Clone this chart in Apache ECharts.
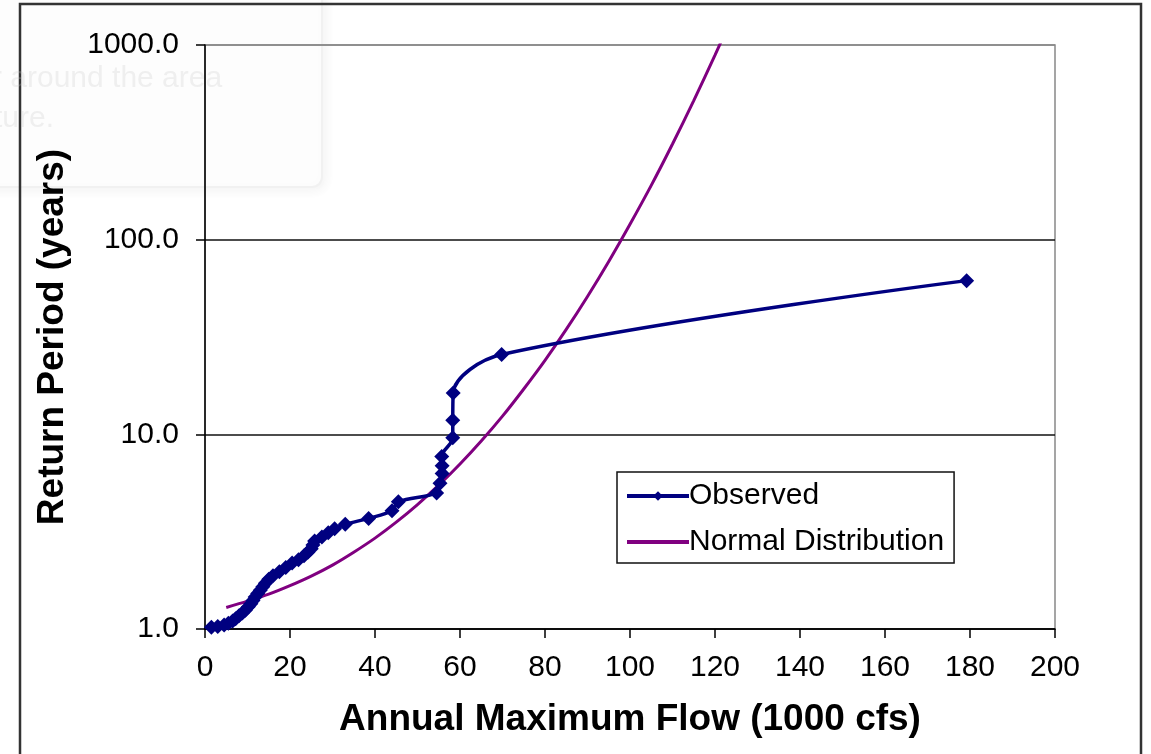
<!DOCTYPE html>
<html>
<head>
<meta charset="utf-8">
<script src="https://cdn.jsdelivr.net/npm/echarts@6/dist/echarts.min.js"></script>
<style>
html,body{margin:0;padding:0;background:#fff;}
#chart{width:1151px;height:754px;}
</style>
</head>
<body>
<div id="chart"></div>
<script>
// Observed data: [annual maximum flow (1000 cfs), return period (years)]
const observedFlow = [1.5, 3.0, 4.5, 5.5, 6.5, 7.2, 8.0, 8.8, 9.5, 10.2, 10.8, 11.3, 11.8, 12.4, 13.0, 13.6, 14.2, 15.0, 16.0, 17.5, 19.0, 20.5, 22.0, 23.3, 24.2, 25.0, 25.4, 25.8, 27.5, 29.0, 30.5, 33.0, 38.5, 44.0, 45.5, 54.5, 55.3, 55.8, 55.8, 55.7, 58.3, 58.3, 58.4, 69.8, 179.2];
const observedReturn = [1.02, 1.03, 1.05, 1.07, 1.10, 1.13, 1.17, 1.21, 1.25, 1.30, 1.35, 1.40, 1.46, 1.52, 1.58, 1.65, 1.72, 1.80, 1.88, 1.97, 2.07, 2.18, 2.27, 2.38, 2.48, 2.58, 2.70, 2.83, 2.97, 3.12, 3.27, 3.45, 3.70, 4.05, 4.50, 5.0, 5.6, 6.3, 6.9, 7.7, 9.6, 11.8, 16.3, 25.7, 61.6];

// Normal distribution fit curve
const normalFlow = [5, 10, 15, 20, 25, 30, 35, 40, 45, 50, 55, 60, 65, 70, 75, 80, 85, 90, 95, 100, 105, 110, 115, 120, 125];
const normalReturn = [1.29, 1.39, 1.51, 1.67, 1.87, 2.13, 2.48, 2.93, 3.54, 4.36, 5.48, 7.04, 9.24, 12.4, 17.1, 24.0, 34.6, 51.1, 77.3, 120, 190, 310, 518, 887, 1550];

const xTicks = {min: 0, max: 200, interval: 20};
const yTicks = {min: 1, max: 1000};

const seriesNames = ['Observed', 'Normal Distribution'];
const xTitle = 'Annual Maximum Flow (1000 cfs)';
const yTitle = 'Return Period (years)';

const observedData = observedFlow.map((x, i) => [x, observedReturn[i]]);
const normalData = normalFlow.map((x, i) => [x, normalReturn[i]]);

const FONT = '"Liberation Sans", Arial, sans-serif';
const chart = echarts.init(document.getElementById('chart'), null, {renderer: 'canvas'});

chart.setOption({
  backgroundColor: '#fff',
  animation: false,
  textStyle: {fontFamily: FONT},
  grid: {left: 205, right: 96, top: 45, bottom: 125, show: true, borderColor: '#888', borderWidth: 1.5},
  graphic: [
    {type: 'rect', z: -10, shape: {x: -20, y: -20, width: 342, height: 207, r: 10},
     style: {fill: '#fdfdfd', stroke: '#f1f1f1', lineWidth: 2, shadowBlur: 12, shadowColor: 'rgba(0,0,0,0.05)', shadowOffsetX: 3, shadowOffsetY: 3}},
    {type: 'text', z: 100, left: -8, top: 64, style: {text: 'r around the area', fill: 'rgba(200,200,200,0.25)', font: '30px ' + FONT}},
    {type: 'text', z: 100, left: -6, top: 104, style: {text: 'ture.', fill: 'rgba(200,200,200,0.25)', font: '30px ' + FONT}},
    {type: 'rect', z: 50, shape: {x: 20, y: 4, width: 1121, height: 760},
     style: {fill: 'none', stroke: '#333', lineWidth: 2.5}}
  ],
  legend: {
    left: 617, top: 472, orient: 'vertical',
    data: [
      {name: seriesNames[0], lineStyle: {width: 4}},
      {name: seriesNames[1], itemStyle: {opacity: 0}, lineStyle: {width: 4}}
    ],
    borderColor: '#111', borderWidth: 1.5, padding: [9, 10, 6, 8],
    itemWidth: 62, itemHeight: 12, itemGap: 16,
    textStyle: {fontSize: 30, color: '#000', fontFamily: FONT, padding: [0, 0, 0, -5]}
  },
  xAxis: {
    type: 'value', min: xTicks.min, max: xTicks.max, interval: xTicks.interval,
    name: xTitle, nameLocation: 'middle', nameGap: 72,
    nameTextStyle: {fontSize: 37, fontWeight: 'bold', color: '#000', fontFamily: FONT},
    axisLine: {lineStyle: {color: '#000', width: 1.5}},
    axisTick: {show: true, length: 9, lineStyle: {color: '#000', width: 1.5}},
    axisLabel: {fontSize: 30, color: '#000', margin: 24, fontFamily: FONT},
    splitLine: {show: false}
  },
  yAxis: {
    type: 'log', logBase: 10, min: yTicks.min, max: yTicks.max,
    name: yTitle, nameLocation: 'middle', nameGap: 134, nameRotate: 90,
    nameTextStyle: {fontSize: 37, fontWeight: 'bold', color: '#000', fontFamily: FONT},
    axisLine: {show: true, lineStyle: {color: '#000', width: 1.5}},
    axisTick: {show: true, length: 9, lineStyle: {color: '#000', width: 1.5}},
    axisLabel: {fontSize: 30, color: '#000', margin: 26, fontFamily: FONT,
      formatter: v => Number(v).toFixed(1)},
    splitLine: {show: true, lineStyle: {color: ['#111', '#111', '#111', '#888'], width: 1.5}}
  },
  series: [
    {
      name: seriesNames[0], type: 'line', data: observedData,
      smooth: 0.35, symbol: 'diamond', symbolSize: 15, showSymbol: true,
      lineStyle: {color: '#000080', width: 3.5},
      itemStyle: {color: '#000080'}, z: 3
    },
    {
      name: seriesNames[1], type: 'line', data: normalData,
      smooth: 0.3, symbol: 'none', showSymbol: false, clip: true,
      lineStyle: {color: '#800080', width: 3},
      itemStyle: {color: '#800080'}, z: 2
    }
  ]
});
</script>
</body>
</html>
